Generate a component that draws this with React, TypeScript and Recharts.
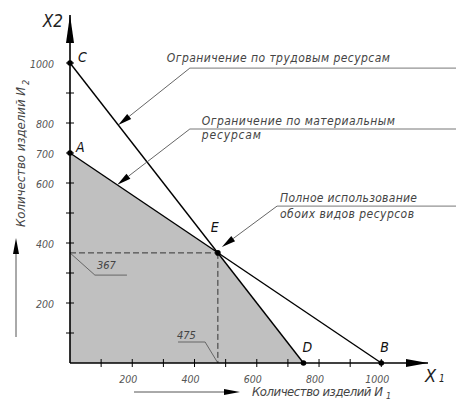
import React from 'react';
import { ComposedChart, XAxis, YAxis, Area, Line, Scatter, ReferenceLine } from 'recharts';

const FONT = "'DejaVu Sans Condensed', 'DejaVu Sans', sans-serif";

// оси
const xTicks = [100, 200, 300, 400, 500, 600, 700, 800, 900, 1000];
const xTickLabels = [200, 400, 600, 800, 1000];
const yTicks = [100, 200, 300, 400, 500, 600, 700, 800, 900, 1000];
const yTickLabels = [200, 400, 600, 700, 800, 1000];

// угловые точки
const pointNames = ['C', 'A', 'E', 'D', 'B'];
const pointX = [0, 0, 475, 750, 1000];
const pointY = [1000, 700, 367, 0, 0];

// ограничение по трудовым ресурсам (C - D)
const laborX = [0, 750];
const laborY = [1000, 0];
// ограничение по материальным ресурсам (A - B)
const materialX = [0, 1000];
const materialY = [700, 0];
// область допустимых решений (A - E - D)
const regionX = [0, 475, 750];
const regionY = [700, 367, 0];

// оптимум
const optX = 475;
const optY = 367;

// выноски: конец стрелки, излом (в единицах осей)
const laborTip = [155, 793];
const laborKnee = [385, 983];
const materialTip = [152, 594];
const materialKnee = [385, 780];
const fullTip = [488, 387];
const fullKnee = [665, 523];
const shelfEnd = 1240;

const laborText = ['Ограничение по трудовым ресурсам'];
const materialText = ['Ограничение по материальным', 'ресурсам'];
const fullText = ['Полное использование', 'обоих видов ресурсов'];

// выноски значений 367 и 475
const yValueKnee = [80, 293];
const yValueEnd = 183;
const xValueKnee = [434, 70];
const xValueEnd = 347;

const xs = Array.from(new Set([...regionX, ...laborX, ...materialX])).sort((a, b) => a - b);
const tableData = xs.map((x) => {
  const row: any = { x };
  const r = regionX.indexOf(x);
  if (r >= 0) row.region = regionY[r];
  const l = laborX.indexOf(x);
  if (l >= 0) row.labor = laborY[l];
  const m = materialX.indexOf(x);
  if (m >= 0) row.material = materialY[m];
  return row;
});

const points = pointNames.map((name, i) => ({ name, x: pointX[i], y: pointY[i] }));

const letterOffset: Record<string, [number, number]> = {
  C: [8, -1],
  A: [6, -1],
  E: [-7, -21],
  D: [-1, -11],
  B: [-1, -11],
};

const PointMark = (p: any) => {
  const name = p.payload?.name;
  const [dx, dy] = letterOffset[name] || [0, 0];
  return (
    <g>
      <circle cx={p.cx} cy={p.cy} r={2.8} fill="#000" />
      <text x={p.cx + dx} y={p.cy + dy} fontFamily={FONT} fontStyle="italic" fontSize={14} fill="#111">
        {name}
      </text>
    </g>
  );
};

const ArrowLeader = (p: any) => {
  const { x1, y1, x2, y2 } = p;
  const ang = Math.atan2(y2 - y1, x2 - x1);
  const len = 14;
  const half = 3.2;
  const bx = x1 + Math.cos(ang) * len;
  const by = y1 + Math.sin(ang) * len;
  const nx = -Math.sin(ang) * half;
  const ny = Math.cos(ang) * half;
  return (
    <g>
      <line x1={bx} y1={by} x2={x2} y2={y2} stroke="#666" strokeWidth={1} />
      <polygon points={`${x1},${y1} ${bx + nx},${by + ny} ${bx - nx},${by - ny}`} fill="#000" />
    </g>
  );
};

// тексты над/под полкой выноски
const shelfLabel = (lines: string[], dx: number, widths: number[], above: number, below: number) => (props: any) => {
  const { x, y } = props.viewBox;
  return (
    <g>
      {lines.map((t, i) => (
        <text
          key={i}
          x={x + dx}
          y={i === 0 ? y + above : y + below}
          fontFamily={FONT}
          fontStyle="italic"
          fontSize={12}
          fill="#444"
          textLength={widths[i]}
          lengthAdjust="spacing"
        >
          {t}
        </text>
      ))}
    </g>
  );
};

const valueLabel = (text: string, dx: number, dy: number) => (props: any) => {
  const { x, y } = props.viewBox;
  return (
    <text x={x + dx} y={y + dy} fontFamily={FONT} fontStyle="italic" fontSize={11} fill="#444">
      {text}
    </text>
  );
};

const XTick = (p: any) => {
  const v = p.payload.value;
  return (
    <g>
      <line x1={p.x} y1={p.y - 4} x2={p.x} y2={p.y + 4} stroke="#000" strokeWidth={1} />
      {xTickLabels.includes(v) && (
        <text x={p.x - 4} y={p.y + 20} textAnchor="middle" fontFamily={FONT} fontStyle="italic" fontSize={10.5} fill="#555">
          {v}
        </text>
      )}
    </g>
  );
};

const YTick = (p: any) => {
  const v = p.payload.value;
  return (
    <g>
      <line x1={p.x - 4} y1={p.y} x2={p.x + 4} y2={p.y} stroke="#000" strokeWidth={1} />
      {yTickLabels.includes(v) && (
        <text x={p.x - 16} y={p.y + 5} textAnchor="end" fontFamily={FONT} fontStyle="italic" fontSize={10.5} fill="#555">
          {v}
        </text>
      )}
    </g>
  );
};

const XAxisDecor = (props: any) => {
  const { x, y, width } = props.viewBox;
  const tip = x + width;
  return (
    <g>
      <polygon points={`${tip},${y} ${tip - 22},${y - 4} ${tip - 22},${y + 4}`} fill="#000" />
      <text x={tip - 3} y={y + 19} fontFamily={FONT} fontStyle="italic" fontSize={18} fill="#222">X</text>
      <text x={tip + 11} y={y + 19} fontFamily={FONT} fontStyle="italic" fontSize={10} fill="#222">1</text>
      <line x1={134} y1={y + 29} x2={226} y2={y + 29} stroke="#555" strokeWidth={1} />
      <polygon points={`240,${y + 29} 224,${y + 26} 224,${y + 32}`} fill="#000" />
      <text x={252} y={y + 33} fontFamily={FONT} fontStyle="italic" fontSize={13} fill="#444" textLength={131} lengthAdjust="spacing">
        Количество изделий И
      </text>
      <text x={386} y={y + 36} fontFamily={FONT} fontStyle="italic" fontSize={9} fill="#444">1</text>
    </g>
  );
};

const YAxisDecor = (props: any) => {
  const { x, y, width } = props.viewBox;
  const ax = x + width;
  return (
    <g>
      <polygon points={`${ax},${y} ${ax - 4},${y + 28} ${ax + 4},${y + 28}`} fill="#000" />
      <text x={ax - 7} y={y + 12} textAnchor="end" fontFamily={FONT} fontStyle="italic" fontSize={17} fill="#222">X2</text>
      <line x1={16} y1={337} x2={16} y2={252} stroke="#555" strokeWidth={1} />
      <polygon points={`16,238 13,254 19,254`} fill="#000" />
      <g transform="translate(25, 227) rotate(-90)">
        <text x={0} y={0} fontFamily={FONT} fontStyle="italic" fontSize={13} fill="#444" textLength={140} lengthAdjust="spacing">
          Количество изделий И
        </text>
        <text x={142} y={4} fontFamily={FONT} fontStyle="italic" fontSize={9} fill="#444">2</text>
      </g>
    </g>
  );
};

export default function App() {
  return (
    <div style={{ position: 'absolute', left: 0, top: 0, width: 456, height: 401, background: '#fff' }}>
      <ComposedChart width={456} height={401} data={tableData} margin={{ top: 15, right: 28, bottom: 8, left: 30 }}>
        <XAxis
          dataKey="x"
          type="number"
          domain={[0, 1150]}
          ticks={xTicks}
          interval={0}
          height={30}
          tickSize={0}
          tickMargin={0}
          tickLine={false}
          axisLine={{ stroke: '#000', strokeWidth: 1.6 }}
          tick={XTick}
          label={XAxisDecor}
        />
        <YAxis
          type="number"
          domain={[0, 1160]}
          ticks={yTicks}
          interval={0}
          width={40}
          tickSize={0}
          tickMargin={0}
          tickLine={false}
          axisLine={{ stroke: '#000', strokeWidth: 1.6 }}
          tick={YTick}
          label={YAxisDecor}
        />

        <Area dataKey="region" type="linear" stroke="none" fill="#c0c0c0" fillOpacity={1} isAnimationActive={false} />

        <ReferenceLine segment={[{ x: 0, y: optY }, { x: optX, y: optY }]} stroke="#333" strokeDasharray="6 3" ifOverflow="visible" />
        <ReferenceLine segment={[{ x: optX, y: optY }, { x: optX, y: 0 }]} stroke="#333" strokeDasharray="6 3" ifOverflow="visible" />

        <Line dataKey="labor" type="linear" stroke="#000" strokeWidth={1.4} dot={false} connectNulls isAnimationActive={false} />
        <Line dataKey="material" type="linear" stroke="#000" strokeWidth={1.4} dot={false} connectNulls isAnimationActive={false} />

        {/* выноски к прямым */}
        <ReferenceLine segment={[{ x: laborTip[0], y: laborTip[1] }, { x: laborKnee[0], y: laborKnee[1] }]} shape={ArrowLeader} ifOverflow="visible" />
        <ReferenceLine
          segment={[{ x: laborKnee[0], y: laborKnee[1] }, { x: shelfEnd, y: laborKnee[1] }]}
          stroke="#777"
          ifOverflow="visible"
          label={shelfLabel(laborText, -23, [223], -6, 0)}
        />
        <ReferenceLine segment={[{ x: materialTip[0], y: materialTip[1] }, { x: materialKnee[0], y: materialKnee[1] }]} shape={ArrowLeader} ifOverflow="visible" />
        <ReferenceLine
          segment={[{ x: materialKnee[0], y: materialKnee[1] }, { x: shelfEnd, y: materialKnee[1] }]}
          stroke="#777"
          ifOverflow="visible"
          label={shelfLabel(materialText, 12, [193, 59], -4, 10)}
        />
        <ReferenceLine segment={[{ x: fullTip[0], y: fullTip[1] }, { x: fullKnee[0], y: fullKnee[1] }]} shape={ArrowLeader} ifOverflow="visible" />
        <ReferenceLine
          segment={[{ x: fullKnee[0], y: fullKnee[1] }, { x: shelfEnd, y: fullKnee[1] }]}
          stroke="#777"
          ifOverflow="visible"
          label={shelfLabel(fullText, 3, [137, 134], -4, 12)}
        />

        {/* выноски значений */}
        <ReferenceLine segment={[{ x: 0, y: optY }, { x: yValueKnee[0], y: yValueKnee[1] }]} stroke="#666" ifOverflow="visible" />
        <ReferenceLine
          segment={[{ x: yValueKnee[0], y: yValueKnee[1] }, { x: yValueEnd, y: yValueKnee[1] }]}
          stroke="#666"
          ifOverflow="visible"
          label={valueLabel(String(optY), 2, -6)}
        />
        <ReferenceLine segment={[{ x: optX, y: 0 }, { x: xValueKnee[0], y: xValueKnee[1] }]} stroke="#666" ifOverflow="visible" />
        <ReferenceLine
          segment={[{ x: xValueKnee[0], y: xValueKnee[1] }, { x: xValueEnd, y: xValueKnee[1] }]}
          stroke="#666"
          ifOverflow="visible"
          label={valueLabel(String(optX), -1, -3)}
        />

        <Scatter data={points} dataKey="y" shape={PointMark} isAnimationActive={false} />
      </ComposedChart>
    </div>
  );
}
